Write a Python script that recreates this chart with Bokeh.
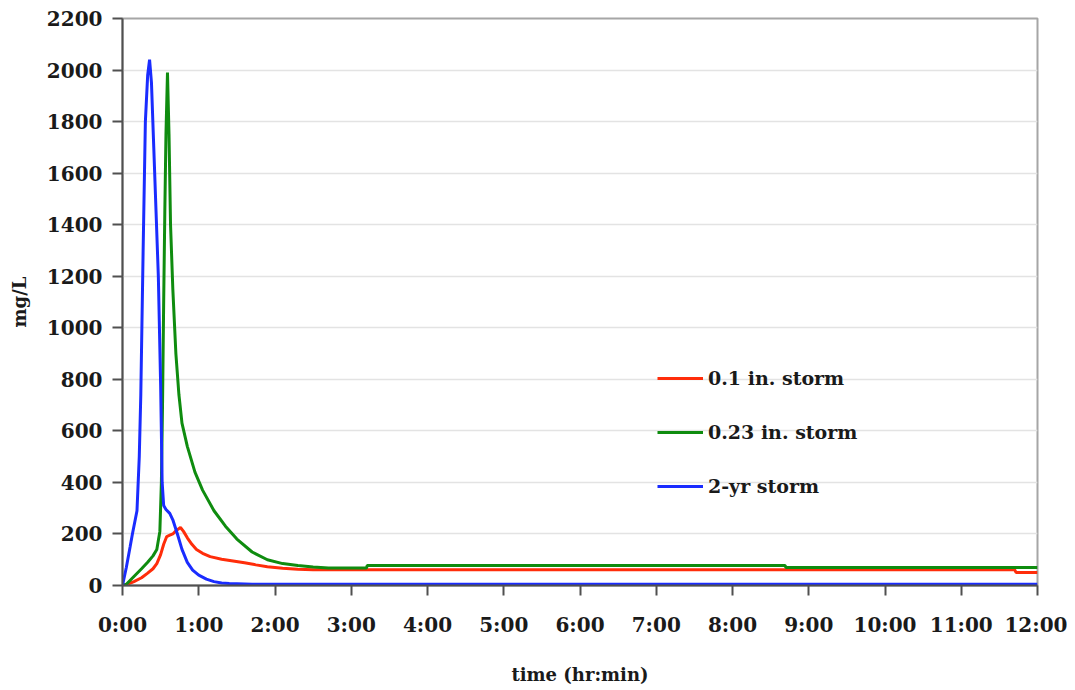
from bokeh.plotting import figure
from bokeh.models import Legend, LegendItem, FixedTicker, Range1d
from bokeh.embed import file_html
from bokeh.resources import INLINE

# ---- data (time in hours, concentration in mg/L) ----
t_red = [0, 0.05, 0.15, 0.25, 0.33, 0.40, 0.45, 0.50, 0.54, 0.58, 0.62, 0.66, 0.70,
         0.76, 0.80, 0.85, 0.91, 0.97, 1.05, 1.15, 1.30, 1.45, 1.60, 1.75, 1.90, 2.10,
         2.30, 2.50, 11.70, 11.72, 12.0]
v_red = [0, 3, 15, 30, 48, 65, 85, 120, 160, 190, 195, 200, 212,
         225, 210, 185, 160, 140, 125, 112, 102, 95, 88, 80, 73, 67,
         63, 61, 61, 50, 50]

t_green = [0, 0.05, 0.15, 0.25, 0.33, 0.40, 0.45, 0.49, 0.51, 0.525, 0.54, 0.555, 0.57,
           0.59, 0.61, 0.63, 0.66, 0.70, 0.74, 0.78, 0.85, 0.95, 1.05, 1.20, 1.35, 1.50,
           1.70, 1.90, 2.10, 2.30, 2.50, 2.70, 3.20, 3.21, 8.69, 8.70, 12.0]
v_green = [0, 5, 35, 65, 90, 115, 140, 210, 400, 700, 1100, 1450, 1750,
           1990, 1750, 1400, 1150, 900, 740, 630, 540, 440, 370, 290, 230, 180,
           130, 100, 85, 78, 72, 68, 68, 78, 78, 70, 70]

t_blue = [0, 0.05, 0.10, 0.13, 0.17, 0.19, 0.22, 0.24, 0.27, 0.30, 0.33, 0.355, 0.38,
          0.41, 0.44, 0.47, 0.50, 0.52, 0.54, 0.57, 0.62, 0.66, 0.72, 0.78, 0.85, 0.92,
          1.00, 1.10, 1.20, 1.30, 1.40, 1.70, 2.00, 12.0]
v_blue = [0, 70, 150, 200, 260, 290, 500, 740, 1290, 1800, 1980, 2040, 1950,
          1700, 1450, 1200, 780, 400, 310, 295, 280, 255, 200, 140, 90, 60,
          40, 25, 15, 10, 8, 5, 5, 5]

labels = ["0.1 in. storm", "0.23 in. storm", "2-yr storm"]
colors = ["#ff2d0a", "#0f8c0f", "#1a2cff"]

x_ticks = list(range(0, 13))
x_tick_labels = ["%d:00" % h for h in x_ticks]
y_ticks = list(range(0, 2201, 200))

FONT = "DejaVu Serif"

p = figure(width=1067, height=687, output_backend="svg", toolbar_location=None,
           x_range=Range1d(0, 12), y_range=Range1d(0, 2200),
           min_border_left=122, min_border_right=30, min_border_top=18, min_border_bottom=97)
p.background_fill_color = "white"
p.border_fill_color = "white"
p.outline_line_color = "#a6a6a6"
p.outline_line_width = 2

r1 = p.line(t_red, v_red, line_color=colors[0], line_width=3)
r2 = p.line(t_green, v_green, line_color=colors[1], line_width=3)
r3 = p.line(t_blue, v_blue, line_color=colors[2], line_width=3)

p.xgrid.visible = False
p.ygrid.ticker = FixedTicker(ticks=y_ticks)
p.ygrid.grid_line_color = "#e3e3e3"
p.ygrid.grid_line_width = 1.5

for ax in (p.xaxis[0], p.yaxis[0]):
    ax.axis_line_color = "#505050"
    ax.axis_line_width = 2
    ax.major_tick_line_color = "#505050"
    ax.major_tick_line_width = 2
    ax.major_tick_in = 0
    ax.major_tick_out = 10
    ax.minor_tick_line_color = None
    ax.major_label_text_font = FONT
    ax.major_label_text_font_style = "bold"
    ax.major_label_text_font_size = "20px"
    ax.major_label_text_color = "#1a1a1a"
    ax.axis_label_text_font = FONT
    ax.axis_label_text_font_style = "bold"
    ax.axis_label_text_font_size = "18px"
    ax.axis_label_text_color = "#1a1a1a"

p.xaxis.ticker = FixedTicker(ticks=x_ticks)
p.xaxis.major_label_overrides = {h: lab for h, lab in zip(x_ticks, x_tick_labels)}
p.xaxis.major_label_standoff = 17
p.xaxis.axis_label = "time (hr:min)"
p.xaxis.axis_label_standoff = 24

p.yaxis.ticker = FixedTicker(ticks=y_ticks)
p.yaxis.major_label_standoff = 10
p.yaxis.axis_label = "mg/L"
p.yaxis.axis_label_standoff = 14

legend = Legend(items=[LegendItem(label=labels[0], renderers=[r1]),
                       LegendItem(label=labels[1], renderers=[r2]),
                       LegendItem(label=labels[2], renderers=[r3])],
                location=(535, 86), orientation="vertical",
                background_fill_alpha=0, border_line_color=None,
                padding=0, margin=0, spacing=28,
                glyph_width=46, glyph_height=26, label_height=26, label_standoff=5,
                label_text_font=FONT, label_text_font_style="bold",
                label_text_font_size="19px", label_text_color="#1a1a1a")
p.add_layout(legend)

open("out.html", "w").write(file_html(p, INLINE))
